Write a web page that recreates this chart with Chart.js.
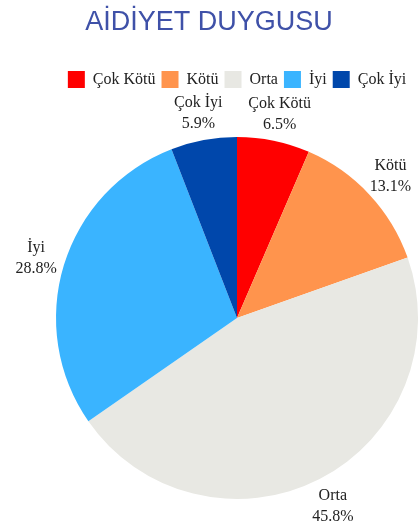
<!DOCTYPE html>
<html>
<head>
<meta charset="utf-8">
<script src="https://cdn.jsdelivr.net/npm/chart.js@4/dist/chart.umd.min.js"></script>
<style>
  html, body { margin: 0; padding: 0; background: #fff; }
  #wrap { width: 420px; height: 532px; position: relative; }
</style>
</head>
<body>
<div id="wrap"><canvas id="chart" width="420" height="532"></canvas></div>
<script>
const categories = ['Çok Kötü', 'Kötü', 'Orta', 'İyi', 'Çok İyi'];
const values = [6.5, 13.1, 45.8, 28.8, 5.9];
const colors = ['#ff0000', '#ff944d', '#e8e8e3', '#3ab4ff', '#0047ab'];
const chartTitle = 'AİDİYET DUYGUSU';

const serif = '"Liberation Serif", "Times New Roman", serif';

// title drawn centred on the whole canvas (legend/pie are offset by padding)
const titlePlugin = {
  id: 'canvasTitle',
  afterDraw(chart) {
    const ctx = chart.ctx;
    ctx.save();
    ctx.font = '27px "Liberation Sans", Arial, sans-serif';
    ctx.fillStyle = '#3f51a8';
    ctx.textAlign = 'center';
    ctx.textBaseline = 'middle';
    ctx.fillText(chartTitle, 209, 23);
    ctx.restore();
  }
};

// give the legend some extra room below it
const legendSpace = {
  id: 'legendSpace',
  beforeInit(chart) {
    const fit = chart.legend.fit;
    chart.legend.fit = function () {
      fit.call(this);
      this.height = 72;
    };
  }
};

// outside labels: name + percent
const outLabels = {
  id: 'outLabels',
  afterDatasetsDraw(chart) {
    const ctx = chart.ctx;
    const meta = chart.getDatasetMeta(0);
    ctx.save();
    ctx.font = '16px ' + serif;
    ctx.fillStyle = '#222';
    ctx.textAlign = 'center';
    ctx.textBaseline = 'middle';
    meta.data.forEach((arc, i) => {
      const p = arc.getProps(['x', 'y', 'startAngle', 'endAngle', 'outerRadius'], true);
      const mid = (p.startAngle + p.endAngle) / 2;
      const r = p.outerRadius + 29;
      const x = p.x + Math.cos(mid) * r;
      const y = p.y + Math.sin(mid) * r;
      ctx.fillText(categories[i], x, y - 9);
      ctx.fillText(values[i].toFixed(1) + '%', x, y + 12);
    });
    ctx.restore();
  }
};

new Chart(document.getElementById('chart'), {
  type: 'pie',
  data: {
    labels: categories,
    datasets: [{
      data: values,
      backgroundColor: colors,
      borderWidth: 0
    }]
  },
  options: {
    responsive: false,
    animation: false,
    layout: { padding: { top: 65, left: 56, right: 2, bottom: 33 } },
    plugins: {
      title: { display: false },
      tooltip: { enabled: false },
      legend: {
        position: 'top',
        labels: {
          boxWidth: 17,
          boxHeight: 17,
          padding: 6,
          color: '#222',
          font: { family: serif, size: 16 }
        }
      }
    }
  },
  plugins: [legendSpace, titlePlugin, outLabels]
});
</script>
</body>
</html>
